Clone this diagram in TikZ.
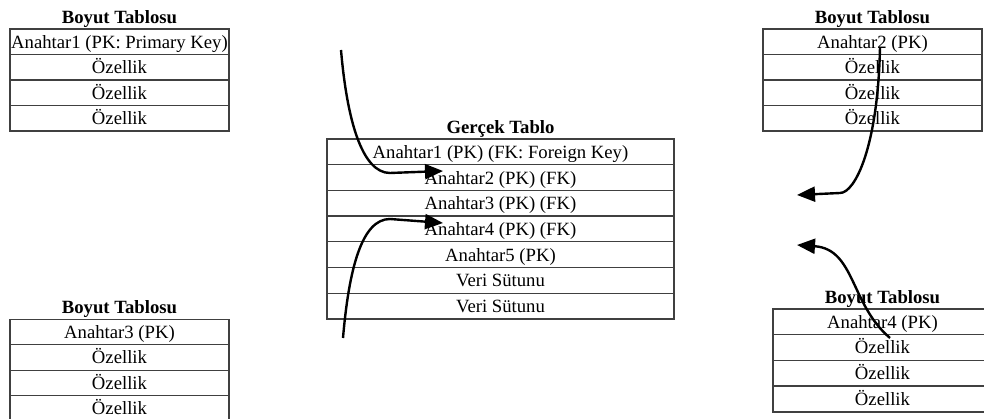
\documentclass[tikz,border=0pt]{standalone}
\usepackage{fontspec}
\setmainfont{Liberation Serif}
\usepackage{tikz}
\usetikzlibrary{positioning}
\usetikzlibrary{arrows.meta}

\begin{document}
\begin{tikzpicture}[x=1pt,y=1pt]
\tikzstyle{cell} =
[
	shape			= rectangle,		% plain table cell
	draw			= black!75,			% colour of the border
	line width		= 1.3pt,			% thickness of the border
	minimum width	= 219pt,			% | size of one row
	minimum height	= 25.5pt,			% |
	inner sep		= 0pt,
	outer sep		= 0pt,				% rows share their borders
	text height		= 16pt,
	text depth		= 3pt,
	font			= \fontsize{18.7}{22}\selectfont
]
\tikzstyle{factCell} = [cell, minimum width = 347pt, minimum height = 25.7pt]
\tikzstyle{title} = [inner sep = 0pt, above = 1.5pt, font = \fontsize{18.7}{22}\selectfont\bfseries]
\tikzstyle{link} = [-{Triangle[length=18pt,width=15pt]}, line width = 2.4pt, black]

\useasboundingbox (0,0) rectangle (984,419);
\clip (0,0) rectangle (984,419);

% dimension table, top left
\node (dimA) [cell] at (119.5,377.25) {Anahtar1 (PK: Primary Key)};
\node (dimA1) [cell, below=0pt of dimA] {Özellik};
\node (dimA2) [cell, below=0pt of dimA1] {Özellik};
\node (dimA3) [cell, below=0pt of dimA2] {Özellik};
\node (dimAtitle) [title] at (dimA.north) {Boyut Tablosu};

% dimension table, top right
\node (dimB) [cell] at (872.5,377.25) {Anahtar2 (PK)};
\node (dimB1) [cell, below=0pt of dimB] {Özellik};
\node (dimB2) [cell, below=0pt of dimB1] {Özellik};
\node (dimB3) [cell, below=0pt of dimB2] {Özellik};
\node (dimBtitle) [title] at (dimB.north) {Boyut Tablosu};

% dimension table, bottom left
\node (dimC) [cell] at (119.5,87) {Anahtar3 (PK)};
\node (dimC1) [cell, below=0pt of dimC] {Özellik};
\node (dimC2) [cell, below=0pt of dimC1] {Özellik};
\node (dimC3) [cell, below=0pt of dimC2] {Özellik};
\node (dimCtitle) [title] at (dimC.north) {Boyut Tablosu};

% dimension table, bottom right
\node (dimD) [cell, minimum height = 25.75pt] at (882.5,97.25) {Anahtar4 (PK)};
\node (dimD1) [cell, minimum height = 25.75pt, below=0pt of dimD] {Özellik};
\node (dimD2) [cell, minimum height = 25.75pt, below=0pt of dimD1] {Özellik};
\node (dimD3) [cell, minimum height = 25.75pt, below=0pt of dimD2] {Özellik};
\node (dimDtitle) [title] at (dimD.north) {Boyut Tablosu};

% fact table
\node (fact1) [factCell] at (500.5,267.15) {Anahtar1 (PK) (FK: Foreign Key)};
\node (fact2) [factCell, below=0pt of fact1] {Anahtar2 (PK) (FK)};
\node (fact3) [factCell, below=0pt of fact2] {Anahtar3 (PK) (FK)};
\node (fact4) [factCell, below=0pt of fact3] {Anahtar4 (PK) (FK)};
\node (fact5) [factCell, below=0pt of fact4] {Anahtar5 (PK)};
\node (fact6) [factCell, below=0pt of fact5] {Veri Sütunu};
\node (fact7) [factCell, below=0pt of fact6] {Veri Sütunu};
\node (factTitle) [title] at (fact1.north) {Gerçek Tablo};

% key links
\coordinate (s1) at (341,369);
\coordinate (c1) at (390,246);
\coordinate (e1) at (443,248);
\coordinate (s2) at (343,81);
\coordinate (c2) at (390,200);
\coordinate (e2) at (443,196);
\coordinate (s3) at (880,372);
\coordinate (c3) at (840,226);
\coordinate (e3) at (797,224);
\coordinate (s4) at (890,81);
\coordinate (e4) at (797,174);
\draw [link] (s1) .. controls +(6,-70) and +(-28,0) .. (c1) -- (e1);
\draw [link] (s2) .. controls +(6,70) and +(-28,0) .. (c2) -- (e2);
\draw [link] (s3) .. controls +(-2,-100) and +(15,0) .. (c3) -- (e3);
\draw [link] (s4) .. controls +(-40,34) and +(58,-4) .. (e4);
\end{tikzpicture}
\end{document}
